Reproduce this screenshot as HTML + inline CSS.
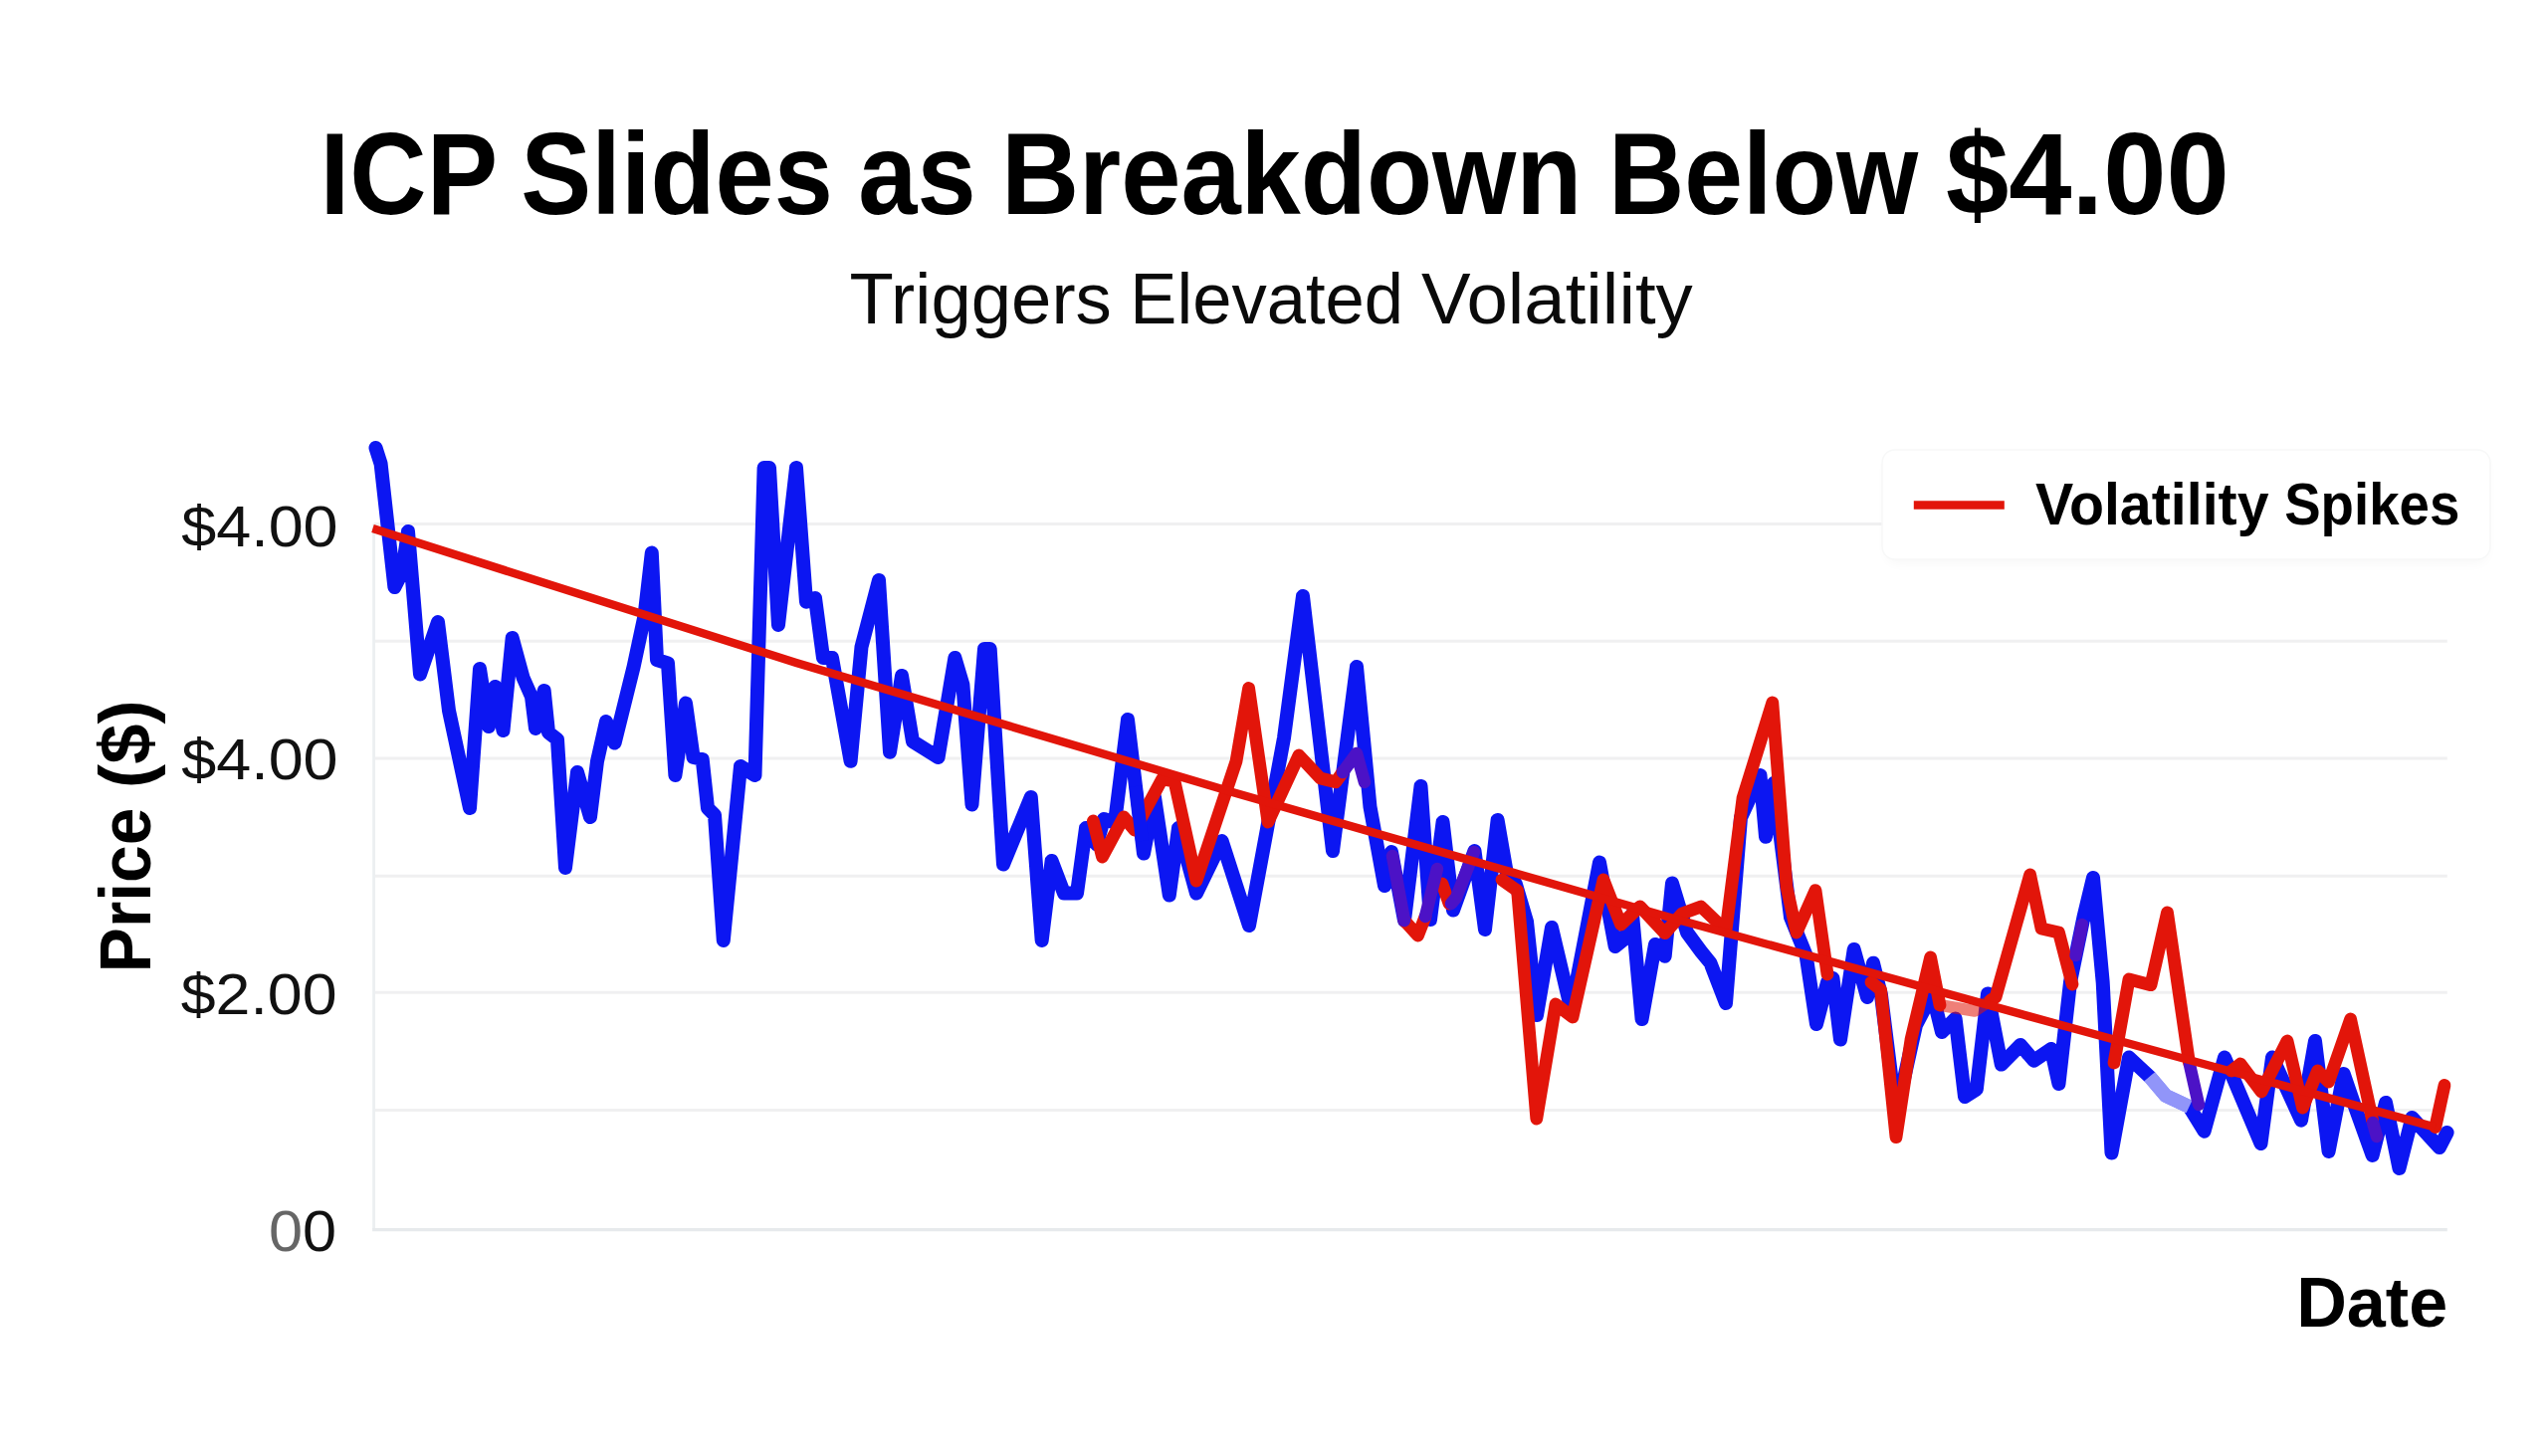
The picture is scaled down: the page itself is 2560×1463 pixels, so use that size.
<!DOCTYPE html>
<html><head><meta charset="utf-8"><title>ICP Slides as Breakdown Below $4.00</title>
<style>
html,body{margin:0;padding:0;background:#fff;}
body{width:2560px;height:1463px;position:relative;overflow:hidden;font-family:"Liberation Sans",sans-serif;}
</style></head><body>
<svg width="2560" height="1463" viewBox="0 0 2560 1463" style="position:absolute;left:0;top:0;font-family:'Liberation Sans',sans-serif">
<defs><filter id="sh" x="-5%" y="-20%" width="110%" height="150%"><feGaussianBlur stdDeviation="6"/></filter></defs>
<line x1="375.6" y1="526.5" x2="2458.8" y2="526.5" stroke="#f0f0f1" stroke-width="3"/>
<line x1="375.6" y1="644.2" x2="2458.8" y2="644.2" stroke="#f0f0f1" stroke-width="3"/>
<line x1="375.6" y1="762" x2="2458.8" y2="762" stroke="#f0f0f1" stroke-width="3"/>
<line x1="375.6" y1="880.3" x2="2458.8" y2="880.3" stroke="#f0f0f1" stroke-width="3"/>
<line x1="375.6" y1="997.2" x2="2458.8" y2="997.2" stroke="#f0f0f1" stroke-width="3"/>
<line x1="375.6" y1="1115.5" x2="2458.8" y2="1115.5" stroke="#f0f0f1" stroke-width="3"/>
<line x1="375.6" y1="526.5" x2="375.6" y2="1235.6" stroke="#eceff1" stroke-width="2.8"/>
<line x1="374.1" y1="1235.6" x2="2458.8" y2="1235.6" stroke="#e7eaec" stroke-width="3.3"/>
<rect x="1895" y="458" width="604" height="108" rx="12" fill="#000" opacity="0.03" filter="url(#sh)"/>
<rect x="1891" y="452" width="611" height="110" rx="13" fill="#fff" stroke="#f7f8f8" stroke-width="1.5"/>
<polyline points="377.5,450.0 382.6,466.0 396.4,590.0 404.0,575.0 410.0,534.0 422.0,677.5 440.0,625.0 451.0,714.0 472.0,812.0 482.0,672.0 491.0,730.0 497.5,690.0 505.5,734.0 514.7,641.0 525.6,681.0 534.0,700.0 538.0,732.0 546.7,694.0 551.0,736.0 560.0,743.0 568.0,872.0 580.0,776.0 593.0,821.0 600.0,765.0 609.0,725.0 617.6,746.6 636.6,670.0 647.5,619.0 654.8,555.5 660.0,663.0 671.0,666.5 678.4,779.0 689.0,706.6 696.6,761.0 705.7,763.0 711.0,812.0 718.0,819.0 726.8,945.0 744.0,770.0 758.5,779.0 767.6,470.0 773.0,470.0 782.0,628.0 800.0,470.0 810.0,604.7 819.0,601.0 827.0,661.0 836.0,661.0 854.6,764.8 865.5,650.0 883.0,583.0 894.0,755.7 906.0,679.0 917.0,745.0 942.6,761.0 959.4,661.0 967.4,688.0 976.5,808.5 989.0,652.0 994.7,652.0 1008.0,868.5 1035.8,801.0 1046.7,945.0 1056.6,865.0 1069.0,897.6 1082.0,897.6 1091.0,832.0 1102.0,848.5 1109.0,823.0 1120.0,826.7 1133.0,723.0 1149.0,857.6 1160.0,801.0 1174.8,899.5 1184.0,832.0 1202.0,897.6 1227.6,845.0 1255.0,930.0 1290.0,741.5 1309.0,599.0 1339.0,855.0 1363.0,670.0 1376.5,810.8 1391.0,890.0 1398.0,856.0 1411.0,925.0 1427.5,790.0 1437.0,924.0 1449.6,826.0 1460.0,914.6 1481.5,855.0 1492.0,934.0 1504.6,824.0 1515.0,884.0 1522.7,887.7 1534.0,926.0 1544.0,1020.0 1559.0,932.0 1578.5,1014.6 1607.0,866.5 1622.7,951.0 1632.0,943.5 1640.0,918.5 1649.6,1024.0 1663.0,949.0 1672.7,960.8 1680.0,887.5 1695.0,937.0 1709.0,956.0 1718.5,967.7 1734.0,1008.0 1749.0,821.5 1768.5,779.0 1774.0,840.8 1782.0,787.0 1799.0,921.5 1814.6,960.0 1825.0,1029.0 1836.0,987.0 1841.5,983.0 1849.0,1044.6 1862.7,954.0 1876.0,1002.0 1882.0,967.7 1890.0,1000.0 1905.0,1120.0 1925.0,1030.0 1941.5,998.5 1951.0,1037.0 1964.6,1023.5 1974.0,1102.0 1985.8,1094.6 1997.0,998.5 2010.8,1069.6 2030.0,1050.0 2043.5,1065.8 2060.8,1054.0 2068.5,1089.0 2080.0,987.0 2093.5,921.5 2103.0,882.0 2112.7,987.0 2121.5,1158.5 2139.0,1062.5 2159.7,1081.8 2176.0,1101.0 2199.5,1112.0 2214.6,1136.7 2235.0,1062.5 2271.5,1149.0 2283.0,1062.5 2312.0,1125.7 2326.0,1046.0 2339.6,1157.0 2354.7,1079.0 2367.0,1114.7 2383.6,1161.0 2397.0,1107.9 2410.5,1174.0 2423.4,1123.0 2450.9,1153.0 2458.6,1138.0" fill="none" stroke="#0c16f2" stroke-width="14" stroke-linejoin="round" stroke-linecap="round"/>
<polyline points="2159.7,1081.8 2176.0,1101.0 2199.5,1112.0" fill="none" stroke="#fff" stroke-opacity="0.55" stroke-width="14" stroke-linejoin="round" stroke-linecap="butt"/>
<polyline points="1949.0,1010.0 1984.0,1015.8 2000.0,1005.0" fill="none" stroke="#e2150a" stroke-opacity="0.55" stroke-width="12" stroke-linejoin="round" stroke-linecap="round"/>
<polyline points="1098.4,825.0 1107.5,861.0 1129.0,821.0 1140.0,834.0 1167.5,783.0 1180.0,785.0 1202.0,885.0 1242.0,765.0 1254.6,691.5 1274.0,826.0 1305.0,759.0 1326.5,782.0 1342.0,785.8 1349.0,776.0" fill="none" stroke="#e2150a" stroke-width="12.8" stroke-linejoin="round" stroke-linecap="round"/>
<polyline points="1411.0,925.0 1424.6,940.0 1432.0,921.0" fill="none" stroke="#e2150a" stroke-width="12.8" stroke-linejoin="round" stroke-linecap="round"/>
<polyline points="1449.0,888.0 1456.0,908.0" fill="none" stroke="#e2150a" stroke-width="12.8" stroke-linejoin="round" stroke-linecap="round"/>
<polyline points="1509.0,884.0 1524.6,895.0 1543.8,1124.0 1563.0,1009.0 1580.0,1022.0 1611.0,884.0 1628.5,929.0 1647.7,910.8 1672.7,937.7 1690.0,918.0 1709.0,911.0 1734.0,935.0 1751.0,802.0 1780.8,706.0 1795.0,891.0 1805.0,937.0 1824.0,894.6 1836.0,979.0" fill="none" stroke="#e2150a" stroke-width="12.8" stroke-linejoin="round" stroke-linecap="round"/>
<polyline points="1880.0,987.0 1889.6,994.6 1905.0,1142.7 1920.0,1044.6 1939.6,962.0 1949.0,1010.0" fill="none" stroke="#e2150a" stroke-width="12.8" stroke-linejoin="round" stroke-linecap="round"/>
<polyline points="2000.0,1005.0 2005.0,1002.0 2039.6,879.0 2051.0,933.0 2068.5,937.0 2082.0,989.0" fill="none" stroke="#e2150a" stroke-width="12.8" stroke-linejoin="round" stroke-linecap="round"/>
<polyline points="2124.0,1068.0 2139.0,984.0 2161.0,989.7 2177.5,917.0 2199.5,1068.0" fill="none" stroke="#e2150a" stroke-width="12.8" stroke-linejoin="round" stroke-linecap="round"/>
<polyline points="2242.0,1076.0 2251.0,1069.0 2272.0,1097.0 2298.0,1046.0 2313.5,1113.0 2328.6,1076.0 2339.6,1087.0 2361.6,1024.0 2383.6,1125.7" fill="none" stroke="#e2150a" stroke-width="12.8" stroke-linejoin="round" stroke-linecap="round"/>
<polyline points="2446.8,1132.6 2456.0,1090.5" fill="none" stroke="#e2150a" stroke-width="12.8" stroke-linejoin="round" stroke-linecap="round"/>
<polyline points="1349.0,776.0 1363.0,757.0 1371.0,786.0" fill="none" stroke="#4c12c6" stroke-width="12.5" stroke-linejoin="round" stroke-linecap="round"/>
<polyline points="1399.0,860.0 1411.0,925.0" fill="none" stroke="#4c12c6" stroke-width="12.5" stroke-linejoin="round" stroke-linecap="round"/>
<polyline points="1432.0,921.0 1444.0,873.0" fill="none" stroke="#4c12c6" stroke-width="12.5" stroke-linejoin="round" stroke-linecap="round"/>
<polyline points="1458.0,908.0 1463.0,902.0 1481.0,856.0" fill="none" stroke="#4c12c6" stroke-width="12.5" stroke-linejoin="round" stroke-linecap="round"/>
<polyline points="2085.5,960.0 2092.0,929.0" fill="none" stroke="#4c12c6" stroke-width="12.5" stroke-linejoin="round" stroke-linecap="round"/>
<polyline points="2200.0,1070.0 2209.0,1110.0" fill="none" stroke="#4c12c6" stroke-width="12.5" stroke-linejoin="round" stroke-linecap="round"/>
<polyline points="2384.0,1128.0 2388.0,1142.0" fill="none" stroke="#4c12c6" stroke-width="12.5" stroke-linejoin="round" stroke-linecap="round"/>
<polyline points="1141.0,790.0 1147.5,845.0" fill="none" stroke="#0c16f2" stroke-width="13" stroke-linejoin="round" stroke-linecap="butt"/>
<polyline points="374.5,531.0 800.0,666.0 1240.0,796.5 1680.0,922.5 2080.0,1032.5 2446.8,1132.6" fill="none" stroke="#e2150a" stroke-width="8.4" stroke-linejoin="round" stroke-linecap="butt"/>
<line x1="1922.8" y1="507.4" x2="2013.8" y2="507.4" stroke="#e2150a" stroke-width="8.5"/>
<text x="321.62" y="215" font-size="116" font-weight="bold" textLength="178.42" lengthAdjust="spacingAndGlyphs" fill="#000">ICP</text>
<text x="523.33" y="215" font-size="116" font-weight="bold" textLength="313.5" lengthAdjust="spacingAndGlyphs" fill="#000">Slides</text>
<text x="862.25" y="215" font-size="116" font-weight="bold" textLength="118.37" lengthAdjust="spacingAndGlyphs" fill="#000">as</text>
<text x="1005.94" y="215" font-size="116" font-weight="bold" textLength="583.44" lengthAdjust="spacingAndGlyphs" fill="#000">Breakdown</text>
<text x="1616.01" y="215" font-size="116" font-weight="bold" textLength="311.23" lengthAdjust="spacingAndGlyphs" fill="#000">Below</text>
<text x="1955.04" y="215" font-size="116" font-weight="bold" textLength="284.76" lengthAdjust="spacingAndGlyphs" fill="#000">$4.00</text>
<text x="853.5" y="324.9" font-size="72.5" textLength="263.3" lengthAdjust="spacingAndGlyphs" fill="#0a0a0a">Triggers</text>
<text x="1135.36" y="324.9" font-size="72.5" textLength="274.76" lengthAdjust="spacingAndGlyphs" fill="#0a0a0a">Elevated</text>
<text x="1427.97" y="324.9" font-size="72.5" textLength="272.79" lengthAdjust="spacingAndGlyphs" fill="#0a0a0a">Volatility</text>
<text x="2044.94" y="526.7" font-size="60" font-weight="bold" textLength="234.64" lengthAdjust="spacingAndGlyphs" fill="#000">Volatility</text>
<text x="2295.18" y="526.7" font-size="60" font-weight="bold" textLength="176.15" lengthAdjust="spacingAndGlyphs" fill="#000">Spikes</text>
<text x="182.2" y="548.6" font-size="57" textLength="157.42" lengthAdjust="spacingAndGlyphs" fill="#111">$4.00</text>
<text x="182.2" y="783.3" font-size="57" textLength="157.42" lengthAdjust="spacingAndGlyphs" fill="#111">$4.00</text>
<text x="181.7" y="1018.7" font-size="57" textLength="156.8" lengthAdjust="spacingAndGlyphs" fill="#111">$2.00</text>
<text x="2307.19" y="1332.6" font-size="70" font-weight="bold" textLength="152.05" lengthAdjust="spacingAndGlyphs" fill="#000">Date</text>
<text x="270.05" y="1256.8" font-size="57" textLength="68.13" lengthAdjust="spacingAndGlyphs" fill="#111"><tspan fill="#666">0</tspan>0</text>
<g transform="translate(151.1,972.5) rotate(-90)">
<text x="-4.7" y="0" font-size="72" font-weight="bold" textLength="165.51" lengthAdjust="spacingAndGlyphs" fill="#000">Price</text>
<text x="180.58" y="0" font-size="72" font-weight="bold" textLength="88.44" lengthAdjust="spacingAndGlyphs" fill="#000">($)</text>
</g>
</svg>
</body></html>
